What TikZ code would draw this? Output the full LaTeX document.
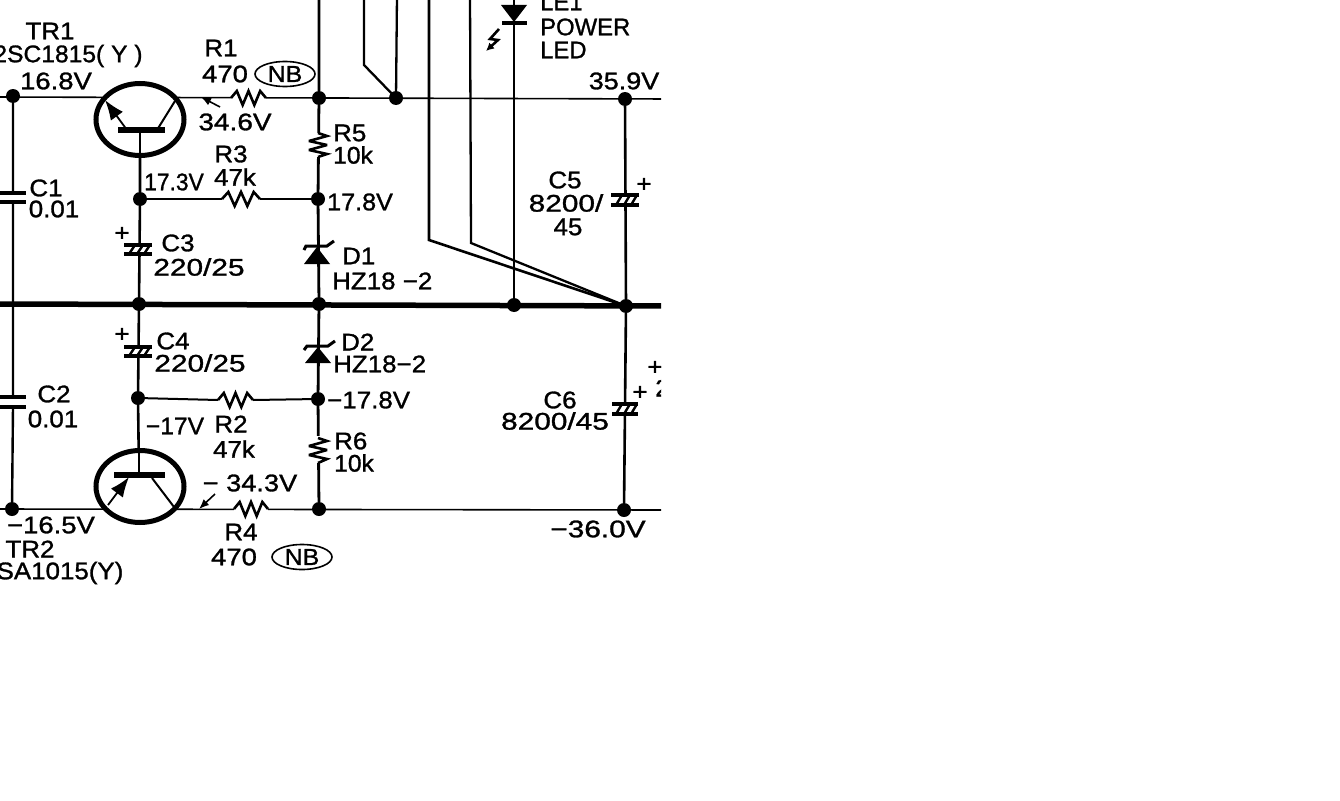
\documentclass[tikz,border=0pt]{standalone}
\usepackage{fontspec}
\setmainfont{Liberation Sans}[FakeBold=1.2,FakeStretch=1.08]
\usetikzlibrary{arrows.meta,shapes.geometric}
\tikzset{
  wire/.style={line width=1.8pt,black},
  thin wire/.style={line width=1.6pt,black},
  bus/.style={line width=5.5pt,black},
  dot/.style={circle,fill=black,inner sep=0pt,minimum size=14pt},
  lbl/.style={font=\fontsize{24}{24}\selectfont,inner sep=0pt,text=black},
  wide/.style={xscale=#1,transform shape},
  nb/.style={draw=black,line width=1.6pt,shape=ellipse,inner sep=0pt,minimum width=60pt,minimum height=25pt,font=\fontsize{23}{23}\selectfont},
  plate/.style={line width=3.4pt,black},
  bar/.style={line width=6pt,black},
  solid head/.style={-{Latex[length=20pt,width=15pt]},line width=1.8pt},
  volt head/.style={-{Latex[length=10pt,width=8pt]},line width=1.6pt},
  zig/.style={line width=2.6pt,line join=miter,miter limit=4},
}
% horizontal resistor: from x1 to x2 at height y
\newcommand{\hresistor}[3]{\draw[zig] (#1,#2)
  -- ({#1+(#3-#1)/6},#2-7) -- ({#1+2*(#3-#1)/6},#2+7) -- ({#1+3*(#3-#1)/6},#2-7)
  -- ({#1+4*(#3-#1)/6},#2+7) -- ({#1+5*(#3-#1)/6},#2-7) -- (#3,#2);}
\newcommand{\vresistor}[3]{\draw[zig] (#1,#2)
  -- (#1+9,#2+3) -- (#1-9,#2+8) -- (#1+9,#2+12) -- (#1-9,#2+17) -- (#1+9,#2+21) -- (#1,#3);}
% polarised capacitor: x, y of upper plate, y of lower plate, half width
\newcommand{\polcap}[4]{
  \fill[white] (#1-#4,#2) rectangle (#1+#4,#3);
  \draw[plate] (#1-#4,#2) -- (#1+#4,#2);
  \draw[plate] (#1-#4,#3) -- (#1+#4,#3);
  \draw[line width=2.4pt] (#1-9,#3) -- (#1-3,#2) (#1-1,#3) -- (#1+5,#2) (#1+6,#3) -- (#1+12,#2);}
\begin{document}
\begin{tikzpicture}[x=1pt,y=-1pt]
\useasboundingbox (0,0) rectangle (1340,800);
\fill[white] (0,0) rectangle (1340,800);
\begin{scope}
\clip (0,0) rectangle (661,800);
% free ends
\coordinate (tl) at (-5,97); \coordinate (tr) at (670,99);
\coordinate (ml) at (-5,304); \coordinate (mr) at (670,306);
\coordinate (bl) at (-5,509); \coordinate (br) at (670,510);
\coordinate (v1t) at (319,-5); \coordinate (v2t) at (364,-5); \coordinate (v2k) at (364,65);
\coordinate (v3t) at (397,-5); \coordinate (v4t) at (429,-5); \coordinate (v4k) at (429,240);
\coordinate (v5t) at (470,-5); \coordinate (v5k) at (471,243); \coordinate (v6t) at (514,-5);
% junctions
\node[dot] (j1) at (13,96) {}; \node[dot] (j2) at (319,98) {}; \node[dot] (j3) at (396,98) {};
\node[dot] (j4) at (625,99) {}; \node[dot] (j5) at (140,199) {}; \node[dot] (j6) at (318,199) {};
\node[dot] (j7) at (139,304) {}; \node[dot] (j8) at (319,304) {}; \node[dot] (j9) at (514,305) {};
\node[dot] (j10) at (626,306) {}; \node[dot] (j11) at (138,398) {}; \node[dot] (j12) at (318,399) {};
\node[dot] (j13) at (12,509) {}; \node[dot] (j14) at (319,509) {}; \node[dot] (j15) at (624,510) {};
% wires
\draw[thin wire] (tl) -- (tr);
\draw[thin wire] (bl) -- (br);
\draw[bus] (ml) -- (mr);
\draw[line width=2.8pt] (v1t) -- (j2) -- (j6) -- (j8) -- (j12) -- (j14);
\draw[line width=2.3pt] (v2t) -- (v2k) -- (j3.center);
\draw[line width=2.3pt] (v3t) -- (j3.center);
\draw[line width=2.6pt] (v4t) -- (v4k) -- (j10.center);
\draw[line width=2.3pt] (v5t) -- (v5k) -- (j10.center);
\draw[line width=2.6pt] (v6t) -- (j9);
\draw[line width=2.6pt] (j4) -- (j10) -- (j15);
\draw[line width=2.4pt] (j1) -- (13,193) (13,202) -- (13,397) (13,407) -- (j13);
\draw[line width=2.6pt] (140,130) -- (j5) -- (j7) -- (j11) -- (139,474);
\draw[line width=2pt] (j5) -- (222,199) (260,199) -- (j6);
\draw[line width=2pt] (j11) -- (218,400) (253,400) -- (j12);
% C1 C2
\draw[plate] (-2,193) -- (26,193) (-2,202) -- (26,202);
\draw[plate] (-2,397) -- (26,397) (-2,407) -- (26,407);
% resistors
\fill[white] (231,90) rectangle (266,106);
\fill[white] (234,501) rectangle (268,517);
\fill[white] (222,191) rectangle (260,207);
\fill[white] (218,392) rectangle (253,408);
\hresistor{231}{98}{266}
\hresistor{222}{199}{260}
\hresistor{218}{400}{253}
\hresistor{234}{509}{268}
\fill[white] (308,133) rectangle (328,157);
\fill[white] (308,436) rectangle (328,463);
\vresistor{318}{133}{157}
\vresistor{318}{438}{463}
% transistors
\fill[white] (140,119.5) ellipse [x radius=44,y radius=36];
\draw[line width=5pt] (140,119.5) ellipse [x radius=44,y radius=36];
\draw[bar] (118,130) -- (165,130);
\draw[line width=2.6pt] (140,130) -- (140,157);
\draw[solid head] (127,130) -- (105,100);
\draw[line width=2pt] (157,130) -- (175,101);
\fill[white] (140,486.5) ellipse [x radius=44,y radius=36];
\draw[line width=5pt] (140,486.5) ellipse [x radius=44,y radius=36];
\draw[bar] (114,475) -- (165,475);
\draw[line width=2.6pt] (139,450) -- (139,475);
\draw[solid head] (108,505) -- (129,477);
\draw[line width=2pt] (152,478) -- (174,507);
% voltage arrows
\draw[volt head] (220,107) -- (201,97);
\draw[volt head] (215,494) -- (199,509);
% caps
\polcap{138}{245}{254}{14}
\polcap{138}{347}{356}{14}
\polcap{625}{195}{205}{14}
\polcap{625}{404}{414}{13}
% zener diodes
\fill (304,264) -- (330,264) -- (317,247) -- cycle;
\draw[line width=3pt] (304,250) -- (306,246) -- (327,246) -- (334,241);
\fill (305,363) -- (331,363) -- (318,347) -- cycle;
\draw[line width=3pt] (304,350) -- (307,346) -- (328,346) -- (335,341);
% LED
\fill (501,5) -- (527,5) -- (514,22) -- cycle;
\draw[line width=4.5pt] (502,23) -- (527,23);
\draw[line width=2.6pt,-{Latex[length=8pt,width=8pt]}] (499,29) -- (490,39) -- (498,40) -- (486,51);
% labels
\node[lbl] (t1) at (50,31) {TR1};
\node[lbl,wide=0.95] (t2) at (68,56) {2SC1815( Y )};
\node[lbl,wide=1.06] (t3) at (56,81) {16.8V};
\node[lbl] (t4) at (221,48) {R1};
\node[lbl,wide=1.06] (t5) at (225,74) {470};
\node[nb] (nb1) at (285,74) {NB};
\node[lbl,wide=1.08] (t6) at (235,122) {34.6V};
\node[lbl,anchor=west] (t7) at (333,133) {R5};
\node[lbl,anchor=west,wide=0.95] (t8) at (333,155) {10k};
\node[lbl] (t9) at (231,154) {R3};
\node[lbl] (t10) at (235,177) {47k};
\node[lbl,wide=0.88] (t11) at (174,182) {17.3V};
\node[lbl,anchor=west,wide=0.97] (t12) at (327,202) {17.8V};
\node[lbl,anchor=west] (t13) at (342,256) {D1};
\node[lbl,anchor=west] (t14) at (332,281) {HZ18 −2};
\node[lbl] (t15) at (46,188) {C1};
\node[lbl] (t16) at (54,209) {0.01};
\node[lbl] (t17) at (178,243) {C3};
\node[lbl,wide=1.15] (t18) at (199,267) {220/25};
\node[lbl] (t19) at (173,341) {C4};
\node[lbl,wide=1.15] (t20) at (200,363) {220/25};
\node[lbl] (t21) at (54,394) {C2};
\node[lbl] (t22) at (53,419) {0.01};
\node[lbl,wide=0.95] (t23) at (175,426) {−17V};
\node[lbl] (t24) at (231,424) {R2};
\node[lbl] (t25) at (234,449) {47k};
\node[lbl,anchor=west] (t26) at (341,342) {D2};
\node[lbl,anchor=west] (t27) at (333,364) {HZ18−2};
\node[lbl,anchor=west] (t28) at (327,400) {−17.8V};
\node[lbl,anchor=west] (t29) at (334,441) {R6};
\node[lbl,anchor=west,wide=0.95] (t30) at (334,463) {10k};
\node[lbl,wide=1.05] (t31) at (250,483) {− 34.3V};
\node[lbl,wide=1.06] (t32) at (51,525) {−16.5V};
\node[lbl] (t33) at (30,549) {TR2};
\node[lbl] (t34) at (60,573) {SA1015(Y)};
\node[lbl] (t35) at (241,532) {R4};
\node[lbl,wide=1.06] (t36) at (234,557) {470};
\node[nb] (nb2) at (302,557) {NB};
\node[lbl,anchor=west,wide=0.92] (t37) at (540,27) {POWER};
\node[lbl,anchor=west,wide=0.92] (t38) at (540,50) {LED};
\node[lbl,anchor=west,wide=0.92] (t39) at (540,2) {LE1};
\node[lbl,wide=1.04] (t40) at (624,81) {35.9V};
\node[lbl] (t41) at (565,180) {C5};
\node[lbl,wide=1.15] (t42) at (566,203) {8200/};
\node[lbl] (t43) at (568,227) {45};
\node[lbl] (t44) at (644,185) {+};
\node[lbl] (t45) at (560,400) {C6};
\node[lbl,wide=1.15] (t46) at (555,421) {8200/45};
\node[lbl] (t47) at (640,393) {+};
\node[lbl] (t48) at (655,368) {+};
\node[lbl,anchor=west] (t49) at (655,388) {2};
\node[lbl] (t50) at (122,234) {+};
\node[lbl] (t51) at (122,335) {+};
\node[lbl,wide=1.15] (t52) at (598,529) {−36.0V};
\end{scope}
\end{tikzpicture}
\end{document}
